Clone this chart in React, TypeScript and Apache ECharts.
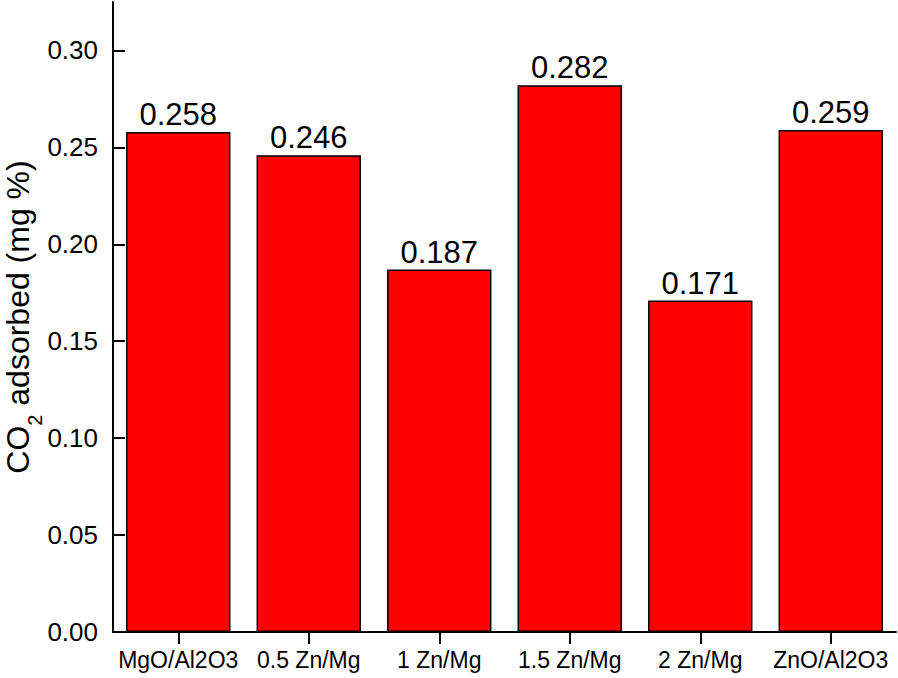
import React, { useEffect, useRef } from "react";
import * as echarts from "echarts";

const categories = ["MgO/Al2O3", "0.5 Zn/Mg", "1 Zn/Mg", "1.5 Zn/Mg", "2 Zn/Mg", "ZnO/Al2O3"];
const values = [0.258, 0.246, 0.187, 0.282, 0.171, 0.259];
const yTicks = [0, 0.05, 0.1, 0.15, 0.2, 0.25, 0.3];

const FONT = "'Liberation Sans', Arial, sans-serif";

export default function App() {
  const ref = useRef<HTMLDivElement>(null);
  useEffect(() => {
    if (!ref.current) return;
    const chart = echarts.init(ref.current, null, { renderer: "svg" });
    chart.setOption({
      animation: false,
      backgroundColor: "#ffffff",
      grid: { left: 113, right: 2, top: 2, bottom: 46, containLabel: false, outerBoundsMode: "none" },
      xAxis: {
        type: "category",
        data: categories,
        axisLine: { lineStyle: { color: "#000", width: 2 } },
        axisTick: { show: true, inside: false, length: 12, alignWithLabel: true, lineStyle: { color: "#000", width: 2 } },
        axisLabel: { color: "#000", fontFamily: FONT, fontSize: 23, margin: 16, interval: 0, hideOverlap: false },
      },
      yAxis: {
        type: "value",
        min: 0,
        max: 0.325,
        interval: 0.05,
        splitLine: { show: false },
        axisLine: { show: true, lineStyle: { color: "#000", width: 2 } },
        axisTick: { show: true, inside: true, length: 12, customValues: yTicks, lineStyle: { color: "#000", width: 2 } },
        axisLabel: {
          color: "#000",
          fontFamily: FONT,
          fontSize: 26,
          margin: 15,
          customValues: yTicks,
          formatter: (v: number) => v.toFixed(2),
        },
        name: "{m|CO}{s|2}{m| adsorbed (mg %)}",
        nameLocation: "middle",
        nameRotate: 90,
        nameGap: 79,
        nameMoveOverlap: false,
        nameTextStyle: {
          color: "#000",
          fontFamily: FONT,
          fontSize: 32,
          rich: {
            m: { fontFamily: FONT, fontSize: 32, color: "#000", lineHeight: 32, verticalAlign: "top" },
            s: { fontFamily: FONT, fontSize: 20, color: "#000", lineHeight: 20, padding: [23, 0, 0, 0], verticalAlign: "top" },
          },
        },
      },
      series: [
        {
          type: "bar",
          data: values,
          barWidth: "80%",
          itemStyle: { color: "#ff0000", borderColor: "#000", borderWidth: 1.5 },
          label: {
            show: true,
            position: "top",
            distance: 2,
            color: "#000",
            fontFamily: FONT,
            fontSize: 31,
            formatter: (p: any) => Number(p.value).toFixed(3),
          },
        },
      ],
    });
    return () => chart.dispose();
  }, []);
  return (
    <div
      ref={ref}
      style={{ position: "absolute", left: 0, top: 0, width: 898, height: 678, background: "#fff" }}
    />
  );
}
